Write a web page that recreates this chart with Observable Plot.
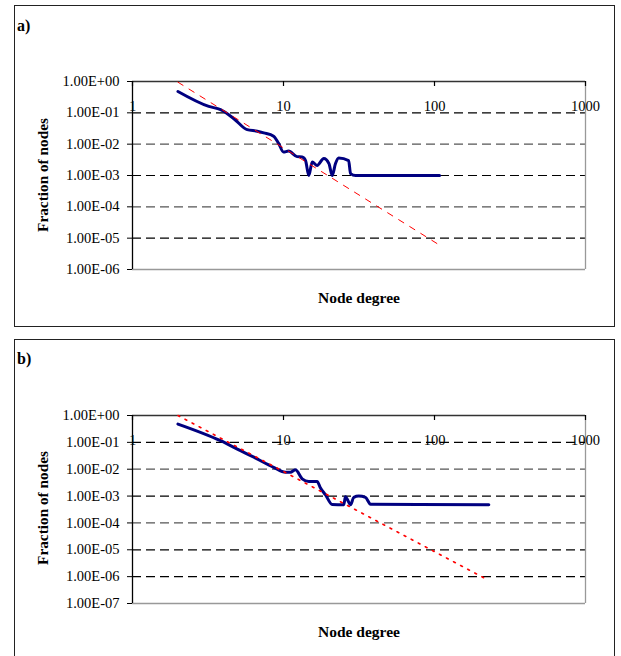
<!DOCTYPE html>
<html>
<head>
<meta charset="utf-8">
<script src="https://cdn.jsdelivr.net/npm/d3@7"></script>
<script src="https://cdn.jsdelivr.net/npm/@observablehq/plot@0.6"></script>
<style>
  html, body { margin: 0; padding: 0; overflow: hidden; background: #fff; }
  body { width: 621px; height: 656px; position: relative; font-family: "Liberation Serif", "Times New Roman", serif; }
  .box { position: absolute; box-sizing: border-box; border: 1.6px solid #222; }
  .plabel { position: absolute; font-weight: bold; font-size: 16px; line-height: 1; }
  .ytitle { position: absolute; width: 130px; height: 20px; line-height: 20px; white-space: nowrap;
            font-weight: bold; font-size: 15.3px; transform: rotate(-90deg); text-align: center; }
  .holder { position: absolute; left: 0; }
</style>
</head>
<body>
<div class="holder" id="pa" style="top:0px"></div>
<div class="holder" id="pb" style="top:330px"></div>
<div class="box" style="left:14px; top:5px; width:601px; height:322px"></div>
<div class="box" style="left:14px; top:339px; width:601px; height:400px"></div>
<div class="plabel" style="left:17px; top:18px">a)</div>
<div class="plabel" style="left:17px; top:351px">b)</div>
<div class="ytitle" style="left:-22px; top:165px">Fraction of nodes</div>
<div class="ytitle" style="left:-22px; top:498px">Fraction of nodes</div>
<script>
// ---- data ----
const xTicks = [1, 10, 100, 1000];
const xTickLabels = ["1", "10", "100", "1000"];

// panel a
const degreeA = [2, 3.2, 3.83, 4.69, 5.75, 6.7, 7.4, 8.6, 9.3, 10, 10.8, 12.3, 13.3, 14.0, 14.7, 15.5, 16.7, 18.5, 20, 21, 22.1, 23.2, 27, 27.8, 30, 108];
const fractionA = [0.48, 0.16, 0.126, 0.065, 0.029, 0.026, 0.023, 0.018, 0.0104, 0.0056, 0.006, 0.004, 0.0039, 0.003, 0.001, 0.0027, 0.0021, 0.0035, 0.0024, 0.001, 0.0024, 0.0036, 0.003, 0.00115, 0.001, 0.001];
const fitDegreeA = [2, 108];
const fitFractionA = [0.95, 6.0e-6];
const yTicksA = [1, 1e-1, 1e-2, 1e-3, 1e-4, 1e-5, 1e-6];
const yLabelsA = ["1.00E+00", "1.00E-01", "1.00E-02", "1.00E-03", "1.00E-04", "1.00E-05", "1.00E-06"];
const gridDarkA = [1e-1, 1e-3, 1e-5];
const gridLightA = [1e-2, 1e-4];

// panel b
const degreeB = [2, 3.83, 5.19, 6.36, 8.6, 10.3, 11.1, 12.0, 13.3, 14.7, 16.7, 17.5, 19.0, 21, 25.1, 25.7, 27.8, 29.2, 31.5, 34.9, 37.7, 229];
const fractionB = [0.48, 0.115, 0.049, 0.028, 0.0118, 0.0077, 0.0077, 0.0096, 0.0044, 0.0035, 0.0035, 0.0021, 0.0011, 0.00049, 0.00048, 0.00095, 0.00048, 0.0009, 0.001, 0.0009, 0.0005, 0.00048];
const fitDegreeB = [2, 223];
const fitFractionB = [1.0, 7.8e-7];
const yTicksB = [1, 1e-1, 1e-2, 1e-3, 1e-4, 1e-5, 1e-6, 1e-7];
const yLabelsB = ["1.00E+00", "1.00E-01", "1.00E-02", "1.00E-03", "1.00E-04", "1.00E-05", "1.00E-06", "1.00E-07"];
const gridDarkB = [1e-1, 1e-3, 1e-5, 1e-6];
const gridLightB = [1e-2, 1e-4];

function panel(o) {
  const data = o.deg.map((d, i) => ({deg: d, frac: o.frac[i]}));
  const fit = o.fitDeg.map((d, i) => ({deg: d, frac: o.fitFrac[i]}));
  const yMin = o.yTicks[o.yTicks.length - 1];
  const plotH = o.height - o.marginTop - o.marginBottom;
  return Plot.plot({
    width: 621,
    height: o.height,
    marginLeft: 132,
    marginRight: 36,
    marginTop: o.marginTop,
    marginBottom: o.marginBottom,
    style: {fontFamily: "'Liberation Serif', 'Times New Roman', serif", fontSize: "14.5px", background: "none", color: "#000"},
    x: {type: "log", domain: [1, 1000], axis: null},
    y: {type: "log", domain: [yMin, 1], ticks: o.yTicks, tickSize: 5, tickPadding: 8, label: null,
        tickFormat: d => o.yLabels[o.yTicks.findIndex(t => Math.abs(Math.log10(t) - Math.log10(d)) < 1e-6)]},
    marks: [
      Plot.ruleY(o.gridDark, {stroke: "#000", strokeWidth: 1.2, strokeDasharray: "9,5"}),
      Plot.ruleY(o.gridLight, {stroke: "#555", strokeWidth: 1.2, strokeDasharray: "9,5"}),
      Plot.ruleY([yMin], {stroke: "#999", strokeWidth: 1.3}),
      Plot.ruleX([1000], {stroke: "#999", strokeWidth: 1.3}),
      Plot.ruleY([1], {stroke: "#333", strokeWidth: 1.3}),
      Plot.ruleX([1], {stroke: "#000", strokeWidth: 1.3}),
      Plot.tickX(xTicks, {x: d => d, insetBottom: plotH - 5, stroke: "#000", strokeWidth: 1.2}),
      Plot.text(xTicks, {x: d => d, frameAnchor: "top", lineAnchor: "middle", dy: 25, text: (d, i) => xTickLabels[i], fill: "#000"}),
      Plot.line(data, {x: "deg", y: "frac", stroke: "#000080", strokeWidth: 3, curve: "monotone-x"}),
      Plot.line(fit, {x: "deg", y: "frac", stroke: "#ff0000", strokeWidth: o.fitWidth, strokeDasharray: o.fitDash}),
      Plot.text(["Node degree"], {frameAnchor: "bottom", lineAnchor: "middle", dy: 29, fontWeight: "bold", fontSize: 15.5, fill: "#000"})
    ]
  });
}

document.getElementById("pa").appendChild(panel({
  deg: degreeA, frac: fractionA, fitDeg: fitDegreeA, fitFrac: fitFractionA,
  yTicks: yTicksA, yLabels: yLabelsA, gridDark: gridDarkA, gridLight: gridLightA,
  height: 330, marginTop: 81, marginBottom: 61, fitDash: "6,7", fitWidth: 1
}));
document.getElementById("pb").appendChild(panel({
  deg: degreeB, frac: fractionB, fitDeg: fitDegreeB, fitFrac: fitFractionB,
  yTicks: yTicksB, yLabels: yLabelsB, gridDark: gridDarkB, gridLight: gridLightB,
  height: 326, marginTop: 85, marginBottom: 53, fitDash: "2,6", fitWidth: 1.6
}));
</script>
</body>
</html>
